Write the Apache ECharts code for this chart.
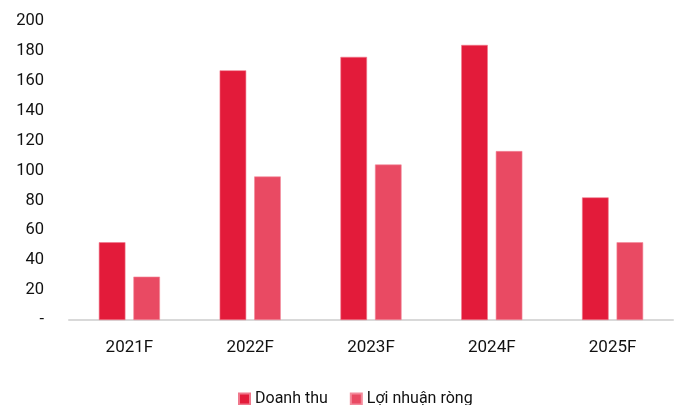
<!DOCTYPE html>
<html>
<head>
<meta charset="utf-8">
<script src="https://cdn.jsdelivr.net/npm/echarts@6/dist/echarts.min.js"></script>
<style>
  html, body { margin: 0; padding: 0; background: #ffffff; }
  #chart { width: 678px; height: 405px; }
</style>
</head>
<body>
<div id="chart"></div>
<script>
// Forecast years
const categories = ['2021F', '2022F', '2023F', '2024F', '2025F'];
// Revenue
const doanhThu = [52, 167, 176, 184, 82];
// Net profit
const loiNhuanRong = [29, 96, 104, 113, 52];

const FONT = '"Liberation Sans Narrow", Roboto, "Liberation Sans", Arial, sans-serif';

const chart = echarts.init(document.getElementById('chart'));
chart.setOption({
  animation: false,
  textStyle: { fontFamily: FONT },
  grid: { left: 69, right: 5, top: 21, bottom: 85, containLabel: false },
  legend: {
    bottom: -2,
    left: 238,
    padding: 0,
    itemWidth: 11,
    itemHeight: 11,
    itemGap: 22,
    icon: 'rect',
    textStyle: { fontFamily: FONT, fontSize: 16, color: '#111111' },
    data: ['Doanh thu', 'Lợi nhuận ròng']
  },
  xAxis: {
    type: 'category',
    data: categories,
    axisLine: { lineStyle: { color: '#d9d9d9', width: 2 } },
    axisTick: { show: false },
    axisLabel: { color: '#111111', fontSize: 17, margin: 19, fontFamily: FONT }
  },
  yAxis: {
    type: 'value',
    min: 0,
    max: 200,
    interval: 20,
    axisLine: { show: false },
    axisTick: { show: false },
    splitLine: { show: false },
    axisLabel: {
      color: '#111111',
      fontSize: 16.5,
      margin: 25,
      fontFamily: FONT,
      formatter: v => (v === 0 ? '-' : String(v))
    }
  },
  series: [
    {
      name: 'Doanh thu',
      type: 'bar',
      data: doanhThu,
      barWidth: '22%',
      barGap: '30%',
      itemStyle: { color: '#e31b3a', borderColor: '#f0788c', borderWidth: 0.6 }
    },
    {
      name: 'Lợi nhuận ròng',
      type: 'bar',
      data: loiNhuanRong,
      barWidth: '22%',
      itemStyle: { color: '#e94a63', borderColor: '#f48a9b', borderWidth: 0.6 }
    }
  ]
});
</script>
</body>
</html>
